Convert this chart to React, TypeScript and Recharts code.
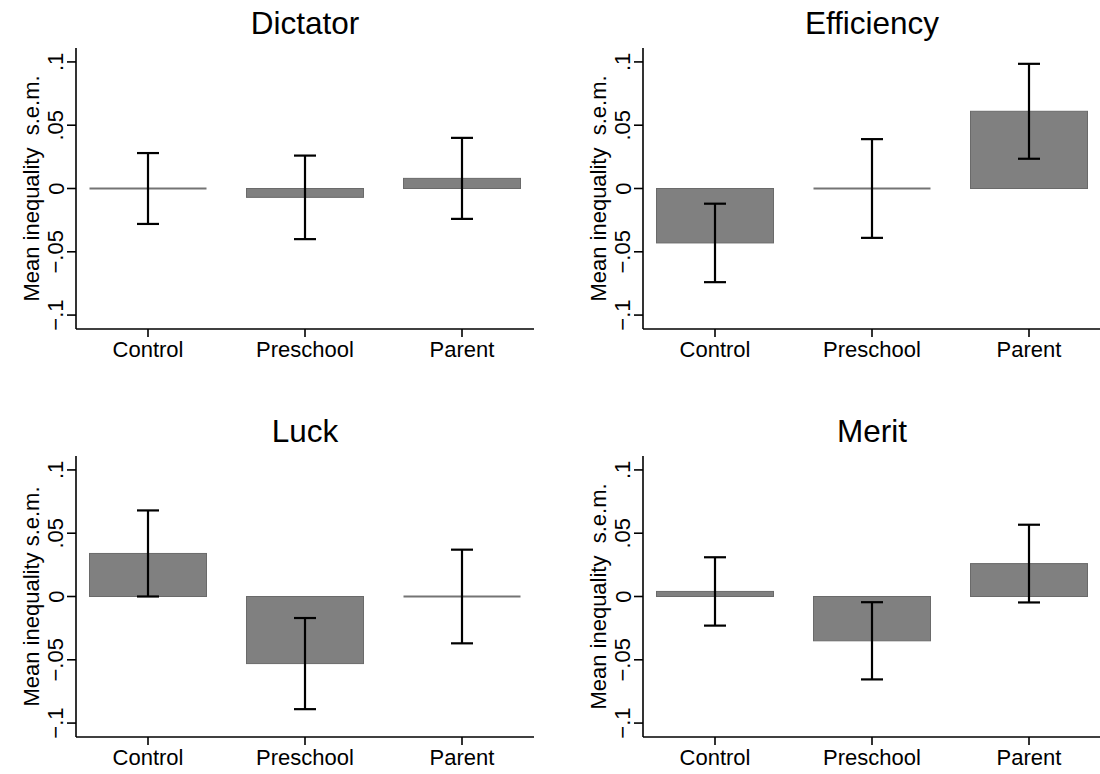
import { Bar, BarChart, ErrorBar, XAxis, YAxis } from "recharts";

const groups = ["Control", "Preschool", "Parent"];

const dictatorMean = [0, -0.007, 0.008];
const dictatorSem = [0.028, 0.033, 0.032];
const efficiencyMean = [-0.043, 0, 0.061];
const efficiencySem = [0.031, 0.039, 0.0375];
const luckMean = [0.034, -0.053, 0];
const luckSem = [0.034, 0.036, 0.037];
const meritMean = [0.004, -0.035, 0.026];
const meritSem = [0.027, 0.0305, 0.0307];

const yTicks = [-0.1, -0.05, 0, 0.05, 0.1];
const yTickLabels = ["−.1", "−.05", "0", ".05", ".1"];
const yDomain = [-0.111, 0.111];

const FONT = '"Liberation Sans", Arial, Helvetica, sans-serif';
const AXIS_W = 76;
const BOX_W = 458;
const BOX_H = 281;
const TOP = 48;
const X_AXIS_H = 42;

const BarShape = (props: any) => {
  const { x, y, width, height } = props;
  if (!Number.isFinite(height) || Math.abs(height) < 1) {
    return <line x1={x} x2={x + width} y1={y} y2={y} stroke="#747474" strokeWidth={1.8} />;
  }
  const top = Math.min(y, y + height);
  return (
    <rect x={x} y={top} width={width} height={Math.abs(height)} fill="#808080" stroke="#6a6a6a" strokeWidth={1} />
  );
};

// rotated tick labels, baseline a fixed distance left of the axis line
const YTick = (props: any) => {
  const { y, payload } = props;
  const x = AXIS_W - 12.5;
  const i = yTicks.indexOf(payload.value);
  const label = i >= 0 ? yTickLabels[i] : String(payload.value);
  return (
    <text
      x={x}
      y={y}
      transform={`rotate(-90 ${x} ${y})`}
      textAnchor="middle"
      fontSize={22}
      fill="#000"
      fontFamily={FONT}
    >
      {label}
    </text>
  );
};

const yLabel = (text: string) => (props: any) => {
  const vb = props.viewBox ?? { x: 0, y: TOP, width: AXIS_W, height: BOX_H };
  const cx = vb.x + 39;
  const cy = vb.y + vb.height / 2;
  return (
    <text
      x={cx}
      y={cy}
      transform={`rotate(-90 ${cx} ${cy})`}
      textAnchor="middle"
      fontSize={22}
      fill="#000"
      fontFamily={FONT}
      style={{ whiteSpace: "pre" }}
    >
      {text}
    </text>
  );
};

type PanelProps = {
  title: string;
  means: number[];
  sems: number[];
  ylab: string;
  left: number;
  top: number;
};

function Panel({ title, means, sems, ylab, left, top }: PanelProps) {
  const data = groups.map((g, i) => ({ group: g, mean: means[i], sem: sems[i] }));
  return (
    <div style={{ position: "absolute", left, top, width: AXIS_W + BOX_W + 14, height: TOP + BOX_H + X_AXIS_H }}>
      <div
        style={{
          position: "absolute",
          left: AXIS_W,
          width: BOX_W,
          top: 7.5,
          textAlign: "center",
          fontSize: 31.5,
          lineHeight: "31.5px",
          fontFamily: FONT,
          color: "#000",
        }}
      >
        {title}
      </div>
      <BarChart
        width={AXIS_W + BOX_W + 14}
        height={TOP + BOX_H + X_AXIS_H}
        data={data}
        margin={{ top: TOP, right: 14, bottom: 0, left: 0 }}
        style={{ fontFamily: FONT }}
      >
        <XAxis
          dataKey="group"
          height={X_AXIS_H}
          padding={{ left: -6.5, right: -6.5 }}
          tickSize={8}
          tickMargin={4}
          tick={{ fontSize: 22, fill: "#000", fontFamily: FONT }}
          axisLine={{ stroke: "#000", strokeWidth: 1.6 }}
          tickLine={{ stroke: "#000", strokeWidth: 1.6 }}
        />
        <XAxis
          xAxisId="top"
          dataKey="group"
          orientation="top"
          height={0}
          tick={false}
          tickLine={false}
          axisLine={{ stroke: "#000", strokeWidth: 1.6 }}
        />
        <YAxis
          width={AXIS_W}
          domain={yDomain}
          ticks={yTicks}
          type="number"
          allowDataOverflow
          tickSize={9}
          tickMargin={3.5}
          tick={<YTick />}
          axisLine={{ stroke: "#000", strokeWidth: 1.6 }}
          tickLine={{ stroke: "#000", strokeWidth: 1.6 }}
          label={yLabel(ylab)}
        />
        <YAxis
          yAxisId="right"
          orientation="right"
          width={0}
          domain={yDomain}
          type="number"
          tick={false}
          tickLine={false}
          axisLine={{ stroke: "#000", strokeWidth: 1.6 }}
        />
        <Bar dataKey="mean" barSize={117} shape={<BarShape />} isAnimationActive={false}>
          <ErrorBar dataKey="sem" direction="y" width={11} strokeWidth={2.2} stroke="#000" isAnimationActive={false} />
        </Bar>
      </BarChart>
    </div>
  );
}

export default function App() {
  return (
    <div
      style={{
        position: "absolute",
        left: 0,
        top: 0,
        width: 1100,
        height: 774,
        overflow: "hidden",
        background: "#fff",
      }}
    >
      <Panel title="Dictator" means={dictatorMean} sems={dictatorSem} ylab="Mean inequality  s.e.m." left={0} top={0} />
      <Panel title="Efficiency" means={efficiencyMean} sems={efficiencySem} ylab="Mean inequality  s.e.m." left={567} top={0} />
      <Panel title="Luck" means={luckMean} sems={luckSem} ylab="Mean inequality s.e.m." left={0} top={408} />
      <Panel title="Merit" means={meritMean} sems={meritSem} ylab="Mean inequality  s.e.m." left={567} top={408} />
    </div>
  );
}
